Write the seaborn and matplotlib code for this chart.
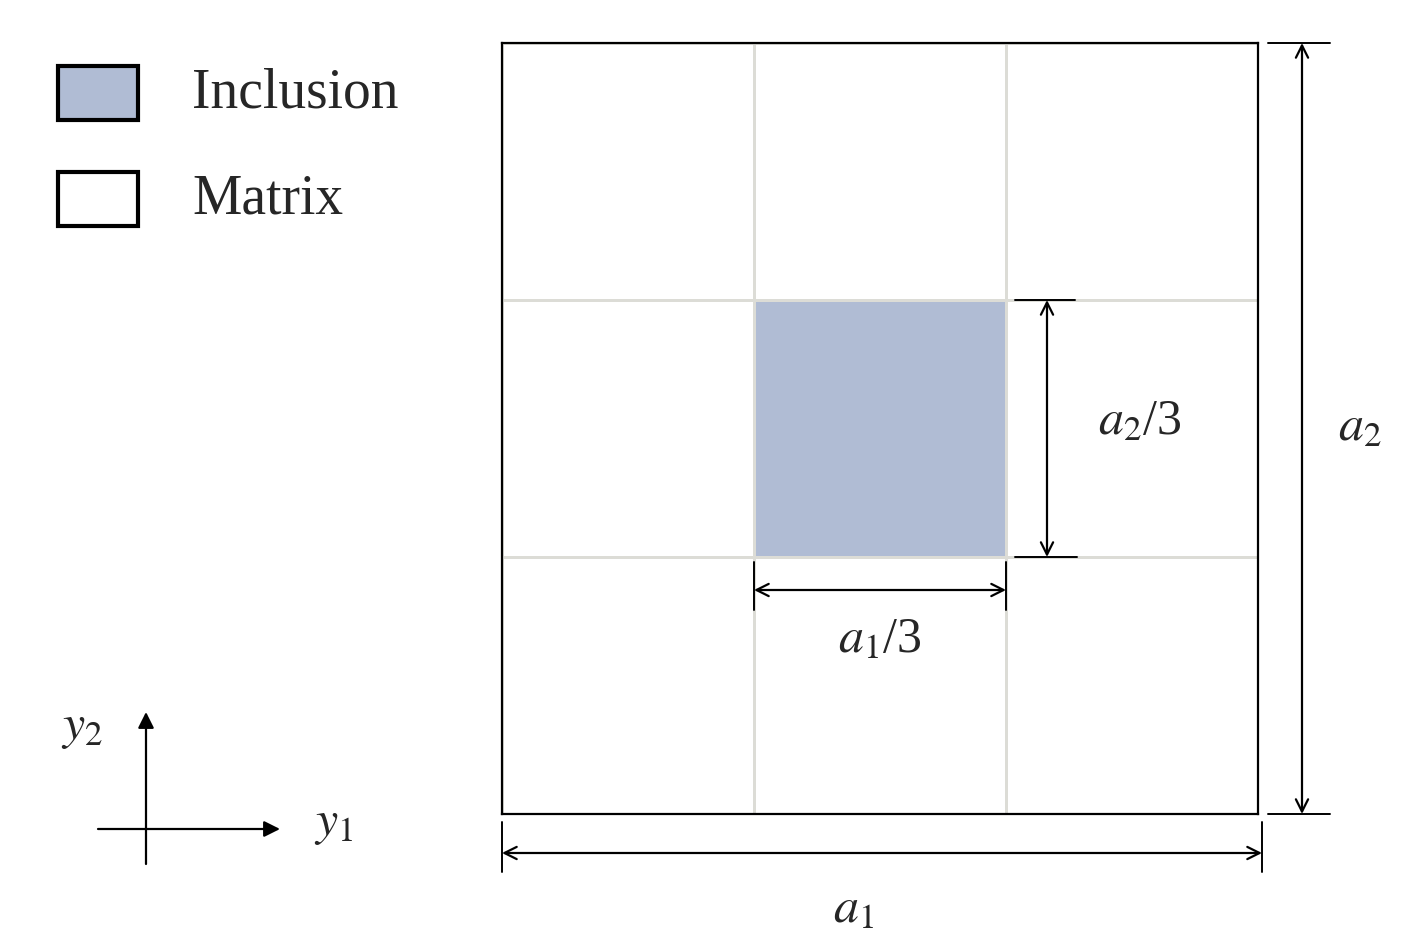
import matplotlib
matplotlib.use("Agg")
import matplotlib.pyplot as plt
import seaborn as sns
import numpy as np

# 3x3 unit cell: 1 = inclusion, 0 = matrix
cells = [[0, 0, 0],
         [0, 1, 0],
         [0, 0, 0]]
phase_names = ["Matrix", "Inclusion"]
phase_colors = ["#ffffff", "#b0bcd4"]

sns.set_theme(style="white")
plt.rcParams["font.family"] = ["Liberation Serif", "DejaVu Serif"]
plt.rcParams["mathtext.fontset"] = "stix"

W, H = 1401, 952
fig = plt.figure(figsize=(W / 100, H / 100), dpi=100)

# grid of the unit cell
L, R, T, B = 502, 1258, 43, 814
hax = fig.add_axes([L / W, 1 - B / H, (R - L) / W, (B - T) / H])
sns.heatmap(np.array(cells), cmap=phase_colors, cbar=False, linewidths=2,
            linecolor="#dcdcd6", ax=hax, xticklabels=False, yticklabels=False)
for s in hax.spines.values():
    s.set_visible(True)
    s.set_color("black")
    s.set_linewidth(1.6)

# overlay in pixel coordinates for annotations
ax = fig.add_axes([0, 0, 1, 1], facecolor="none")
ax.set_xlim(0, W)
ax.set_ylim(H, 0)
ax.axis("off")

arrow = dict(arrowstyle="<->", color="black", lw=1.6, mutation_scale=22,
             shrinkA=0, shrinkB=0)
# a1 arrow (bottom)
ax.annotate("", xy=(L, 853), xytext=(1262, 853), arrowprops=arrow)
ax.plot([L, L], [822, 872], color="black", lw=1.4)
ax.plot([1262, 1262], [822, 872], color="black", lw=1.4)
ax.text(853, 910, r"$a_1$", fontsize=36, ha="center", va="center")
# a2 arrow (right)
ax.annotate("", xy=(1302, T), xytext=(1302, B), arrowprops=arrow)
ax.plot([1268, 1330], [T, T], color="black", lw=1.4)
ax.plot([1268, 1330], [B, B], color="black", lw=1.4)
ax.text(1360, 428, r"$a_2$", fontsize=36, ha="center", va="center")
# a1/3
cx0, cx1 = L + (R - L) / 3, L + 2 * (R - L) / 3
cy0, cy1 = T + (B - T) / 3, T + 2 * (B - T) / 3
ax.annotate("", xy=(cx0, 590), xytext=(cx1, 590), arrowprops=arrow)
ax.plot([cx0, cx0], [562, 610], color="black", lw=1.4)
ax.plot([cx1, cx1], [562, 610], color="black", lw=1.4)
ax.text((cx0 + cx1) / 2, 640, r"$a_1$/3", fontsize=36, ha="center", va="center")
# a2/3
ax.annotate("", xy=(1047, cy0), xytext=(1047, cy1), arrowprops=arrow)
ax.plot([1015, 1075], [cy0, cy0], color="black", lw=1.4)
ax.plot([1015, 1077], [cy1, cy1], color="black", lw=1.4)
ax.text(1140, 422, r"$a_2$/3", fontsize=36, ha="center", va="center")

# legend
for i, (name, col) in enumerate(zip(phase_names[::-1], phase_colors[::-1])):
    y = 93 + i * 106
    ax.add_patch(plt.Rectangle((58, y - 27), 80, 54, facecolor=col,
                               edgecolor="black", lw=3))
    ax.text(192, y, name, fontsize=40, ha="left", va="center")

# coordinate axes
ax.annotate("", xy=(280, 829), xytext=(98, 829),
            arrowprops=dict(arrowstyle="-|>", color="black", lw=1.6,
                            mutation_scale=24, shrinkA=0, shrinkB=0))
ax.annotate("", xy=(146, 712), xytext=(146, 864),
            arrowprops=dict(arrowstyle="-|>", color="black", lw=1.6,
                            mutation_scale=24, shrinkA=0, shrinkB=0))
ax.text(334, 824, r"$y_1$", fontsize=36, ha="center", va="center")
ax.text(82, 728, r"$y_2$", fontsize=36, ha="center", va="center")

fig.savefig("out.png", dpi=100, facecolor="white")
